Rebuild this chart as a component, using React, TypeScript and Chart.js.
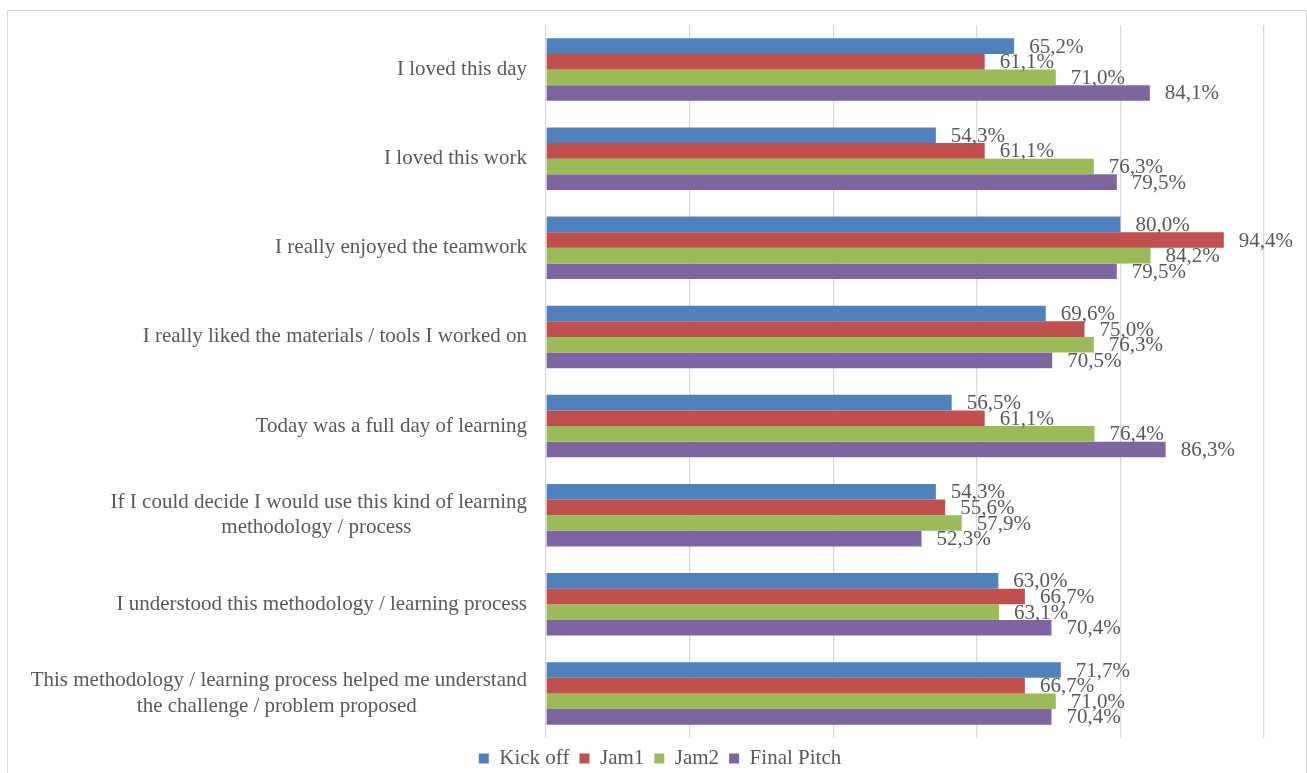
import React, { useEffect, useRef } from "react";
import { Chart, registerables } from "chart.js";

Chart.register(...registerables);

const FONT = '"Liberation Serif", "Times New Roman", serif';
const TEXT_COLOR = "#595959";
const GRID_COLOR = "#D9D9D9";

const categories: (string | string[])[] = [
  "I loved this day",
  "I loved this work",
  "I really enjoyed the teamwork",
  "I really liked the materials / tools I worked on",
  "Today was a full day of learning",
  ["If I could decide I would use this kind of learning", "methodology / process"],
  "I understood this methodology / learning process",
  ["This methodology / learning process helped me understand", "the challenge / problem proposed"],
];

const seriesNames = ["Kick off", "Jam1", "Jam2", "Final Pitch"];
const kickOff = [65.2, 54.3, 80.0, 69.6, 56.5, 54.3, 63.0, 71.7];
const jam1 = [61.1, 61.1, 94.4, 75.0, 61.1, 55.6, 66.7, 66.7];
const jam2 = [71.0, 76.3, 84.2, 76.3, 76.4, 57.9, 63.1, 71.0];
const finalPitch = [84.1, 79.5, 79.5, 70.5, 86.3, 52.3, 70.4, 70.4];
const seriesColors = ["#4F81BD", "#C0504D", "#9BBB59", "#8064A2"];
const xTicks = [0, 20, 40, 60, 80, 100];

const fmt = (v: number) => v.toFixed(1).replace(".", ",") + "%";

// Center the lines of multi-line labels relative to each other (right-aligned block)
function centerLines(label: string | string[], fontSize: number): string | string[] {
  if (!Array.isArray(label)) return label;
  const c = document.createElement("canvas").getContext("2d");
  if (!c) return label;
  c.font = `${fontSize}px ${FONT}`;
  const widths = label.map((l) => c.measureText(l).width);
  const widest = Math.max(...widths);
  const sp = c.measureText(" ").width || 5;
  return label.map((l, i) => {
    const n = Math.round((widest - widths[i]) / 2 / sp);
    return l + " ".repeat(n);
  });
}

const valueLabels = {
  id: "valueLabels",
  afterDatasetsDraw(chart: any) {
    const ctx = chart.ctx;
    ctx.save();
    ctx.font = `21px ${FONT}`;
    ctx.fillStyle = TEXT_COLOR;
    ctx.textAlign = "left";
    ctx.textBaseline = "middle";
    chart.data.datasets.forEach((ds: any, i: number) => {
      const meta = chart.getDatasetMeta(i);
      meta.data.forEach((el: any, j: number) => {
        ctx.fillText(fmt(ds.data[j]), el.x + 15, el.y + 1);
      });
    });
    ctx.restore();
  },
};

// Center the legend on the whole canvas width (not only the padded layout area)
const legendShift = {
  id: "legendShift",
  afterLayout(chart: any) {
    const lg = chart.legend;
    if (!lg) return;
    lg.left = 0;
    lg.right = chart.width + 13;
    lg.width = lg.right - lg.left;
  },
};

export default function App() {
  const ref = useRef<HTMLCanvasElement | null>(null);

  useEffect(() => {
    if (!ref.current) return;
    const labels = categories.map((c) => centerLines(c, 21));
    const series = [kickOff, jam1, jam2, finalPitch];
    const chart = new Chart(ref.current, {
      type: "bar",
      data: {
        labels,
        datasets: series.map((d, i) => ({
          label: seriesNames[i],
          data: d,
          backgroundColor: seriesColors[i],
          borderWidth: 0,
          categoryPercentage: 0.7,
          barPercentage: 1.0,
        })),
      },
      options: {
        indexAxis: "y",
        responsive: true,
        maintainAspectRatio: false,
        animation: false,
        layout: { padding: { top: 25, right: 43, left: 0, bottom: 0 } },
        scales: {
          x: {
            min: 0,
            max: 100,
            afterBuildTicks: (scale: any) => {
              scale.ticks = xTicks.map((v) => ({ value: v }));
            },
            ticks: { display: false },
            grid: { color: GRID_COLOR, lineWidth: 1.3, drawTicks: false },
            border: { display: false },
          },
          y: {
            afterFit: (scale: any) => {
              scale.width = 546;
              scale.paddingTop = 0;
              scale.paddingBottom = 0;
            },
            ticks: {
              font: { family: FONT, size: 21, lineHeight: 1.2 },
              color: TEXT_COLOR,
              padding: 19,
            },
            grid: { display: false, drawTicks: false },
            border: { display: false },
          },
        },
        plugins: {
          legend: {
            position: "bottom",
            labels: {
              font: { family: FONT, size: 21 },
              color: TEXT_COLOR,
              boxWidth: 10,
              boxHeight: 10,
              padding: 10,
            },
          },
          tooltip: { enabled: false },
        },
      },
      plugins: [valueLabels, legendShift],
    } as any);
    return () => chart.destroy();
  }, []);

  return (
    <div style={{ position: "fixed", left: 0, top: 0, width: 1307, height: 773, overflow: "hidden" }}>
      <div
        style={{
          position: "absolute",
          left: 7,
          top: 10,
          width: 1300,
          height: 763,
          border: "1px solid #D9D9D9",
          borderBottom: "none",
          boxSizing: "border-box",
        }}
      />
      <div style={{ position: "absolute", left: 0, top: 0, width: 1307, height: 779 }}>
        <canvas ref={ref} />
      </div>
    </div>
  );
}
